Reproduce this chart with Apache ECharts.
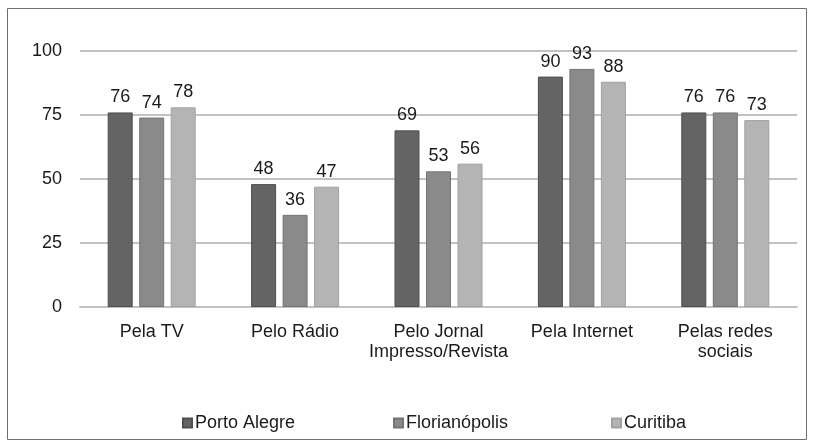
<!DOCTYPE html>
<html>
<head>
<meta charset="utf-8">
<script src="https://cdn.jsdelivr.net/npm/echarts@6/dist/echarts.min.js"></script>
<style>
  html, body { margin: 0; padding: 0; background: #fff; }
  #chart { width: 813px; height: 448px; }
</style>
</head>
<body>
<div id="chart"></div>
<script>
// Categories and survey values (%) per city
const categories = ['Pela TV', 'Pelo Rádio', 'Pelo Jornal\nImpresso/Revista', 'Pela Internet', 'Pelas redes\nsociais'];
const portoAlegre = [76, 48, 69, 90, 76];
const florianopolis = [74, 36, 53, 93, 76];
const curitiba = [78, 47, 56, 88, 73];
const yTicks = [0, 25, 50, 75, 100];

const FONT = '"Liberation Sans", Arial, sans-serif';
const chart = echarts.init(document.getElementById('chart'), null, { renderer: 'canvas' });

function barSeries(name, data, fill, stroke) {
  return {
    name: name,
    type: 'bar',
    data: data,
    barWidth: 25,
    barGap: '26%',
    itemStyle: { color: fill, borderColor: stroke, borderWidth: 1 },
    label: {
      show: true,
      position: 'top',
      distance: 6,
      color: '#1a1a1a',
      fontFamily: FONT,
      fontSize: 18
    }
  };
}

function legendAt(name, left) {
  return {
    data: [name],
    left: left,
    top: 409,
    itemWidth: 9,
    itemHeight: 9,
    icon: 'rect',
    textStyle: { color: '#1a1a1a', fontFamily: FONT, fontSize: 18, padding: [0, 0, 0, -2] }
  };
}

chart.setOption({
  animation: false,
  backgroundColor: '#ffffff',
  graphic: [{
    type: 'rect',
    shape: { x: 7.5, y: 8.5, width: 799, height: 431 },
    style: { fill: 'none', stroke: '#6e6e6e', lineWidth: 1 },
    silent: true
  }],
  grid: { left: 80, right: 16, top: 51, bottom: 141, containLabel: false },
  legend: [
    legendAt('Porto Alegre', 177),
    legendAt('Florianópolis', 388),
    legendAt('Curitiba', 606)
  ],
  xAxis: {
    type: 'category',
    data: categories,
    axisLine: { show: true, lineStyle: { color: '#c2c2c2', width: 2 } },
    axisTick: { show: false },
    axisLabel: {
      color: '#1a1a1a', fontFamily: FONT, fontSize: 18,
      margin: 15, lineHeight: 20, interval: 0
    }
  },
  yAxis: {
    type: 'value',
    min: yTicks[0],
    max: yTicks[yTicks.length - 1],
    interval: 25,
    axisLine: { show: false },
    axisTick: { show: false },
    splitLine: { lineStyle: { color: '#c2c2c2', width: 2 } },
    axisLabel: { color: '#1a1a1a', fontFamily: FONT, fontSize: 18, margin: 18 }
  },
  series: [
    barSeries('Porto Alegre', portoAlegre, '#646464', '#4e4e4e'),
    barSeries('Florianópolis', florianopolis, '#8a8a8a', '#747474'),
    barSeries('Curitiba', curitiba, '#b4b4b4', '#a2a2a2')
  ]
});
</script>
</body>
</html>
